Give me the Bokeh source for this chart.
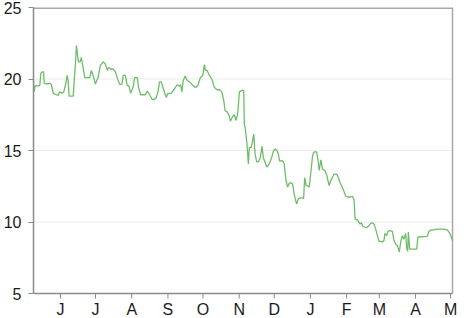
import pandas as pd
from bokeh.plotting import figure
from bokeh.models import FixedTicker, Range1d
from bokeh.core.properties import value
from bokeh.embed import file_html
from bokeh.resources import INLINE

# Days since 2014-06-01 and the value at that time
days = [-23.1, -22.6, -22.0, -21.1, -19.1, -17.7, -16.8, -15.6, -14.5, -13.9, -12.0, -9.1, -7.7, -6.2,
        -3.4, -2.0, -0.6, 0.9, 2.8, 4.5, 5.7, 6.6, 7.4, 10.9, 11.7, 12.8, 13.7, 14.5, 15.4, 16.8,
        17.9, 18.8, 20.8, 23.1, 25.0, 26.5, 27.9, 29.9, 32.2, 34.2, 36.5, 38.4, 40.2, 41.3, 43.0,
        45.0, 47.0, 49.3, 51.0, 52.7, 53.8, 55.5, 57.2, 58.7, 60.1, 62.1, 63.5, 65.8, 66.9, 68.6,
        70.6, 72.6, 74.3, 76.3, 78.3, 80.0, 82.0, 83.5, 84.8, 86.3, 88.6, 90.6, 92.0, 94.8, 97.6,
        99.9, 101.9, 102.8, 104.0, 105.1, 106.8, 108.5, 110.5, 113.4, 115.6, 117.6, 119.8, 121.9,
        122.8, 123.3, 124.1, 125.6, 127.5, 129.6, 131.8, 134.1, 136.1, 138.1, 139.8, 140.9, 142.7,
        144.4, 145.5, 147.5, 148.9, 150.3, 151.8, 153.2, 155.2, 156.9, 157.4, 158.3, 159.7, 160.9,
        161.7, 163.2, 164.0, 165.5, 166.6, 168.0, 169.4, 171.1, 172.6, 173.7, 175.1, 176.6, 177.9,
        179.4, 180.8, 182.5, 183.9, 185.4, 186.5, 187.7, 190.2, 191.6, 193.1, 194.5, 195.9, 197.3,
        198.8, 200.1, 202.2, 203.6, 205.3, 208.2, 209.1, 210.4, 212.1, 213.0, 214.4, 215.9, 217.2,
        219.3, 220.6, 221.5, 223.0, 224.4, 226.4, 228.1, 230.0, 231.5, 232.9, 234.3, 236.4, 237.7,
        239.2, 240.6, 242.0, 242.9, 244.3, 245.8, 248.6, 250.0, 251.4, 252.3, 254.3, 256.5, 257.7,
        258.8, 260.5, 262.2, 264.2, 265.7, 267.1, 268.5, 269.9, 271.4, 272.8, 274.2, 275.7, 277.0,
        277.9, 279.3, 280.4, 282.1, 284.2, 285.6, 287.0, 288.5, 290.2, 291.3, 292.7, 294.1, 295.6,
        296.4, 297.3, 297.9, 299.0, 305.0, 306.1, 314.1, 315.5, 317.5, 319.7, 322.6, 328.3, 331.2,
        333.4, 334.6, 335.7]
values = [19.9, 19.1, 19.4, 19.55, 19.5, 19.55, 20.4, 20.5, 20.5, 19.7, 19.65, 19.7, 19.6, 19.0,
          18.9, 18.85, 19.1, 19.0, 19.1, 19.65, 20.25, 19.85, 18.8, 18.8, 19.8, 21.05, 22.35, 21.75,
          21.2, 21.2, 21.5, 21.05, 20.1, 20.1, 20.1, 20.6, 20.25, 19.65, 20.1, 20.95, 21.2, 21.05,
          20.6, 20.8, 20.7, 20.7, 20.5, 19.9, 19.6, 19.65, 20.25, 20.25, 19.55, 19.5, 19.0, 19.4,
          20.1, 20.1, 19.4, 18.9, 18.9, 18.9, 19.15, 18.9, 18.6, 18.55, 18.7, 19.1, 19.8, 19.8,
          19.2, 18.7, 19.0, 19.0, 19.3, 19.6, 19.5, 19.6, 19.1, 19.9, 20.2, 19.9, 19.8, 19.55, 19.4,
          19.55, 20.1, 20.25, 20.8, 21.0, 20.6, 20.6, 20.25, 20.0, 19.4, 19.25, 19.25, 19.1, 18.5,
          17.8, 17.7, 17.45, 17.05, 17.4, 17.5, 17.1, 17.6, 19.1, 19.2, 19.2, 16.9, 16.5, 15.45,
          14.05, 15.2, 15.2, 15.45, 16.15, 14.75, 14.2, 14.2, 14.5, 15.3, 14.5, 14.2, 13.85, 13.95,
          14.2, 14.5, 15.0, 15.1, 15.0, 14.75, 14.25, 14.3, 14.05, 12.9, 12.45, 12.7, 12.75, 12.65,
          11.95, 11.25, 11.6, 11.7, 11.65, 13.1, 12.55, 12.5, 12.45, 13.5, 14.65, 14.9, 14.9, 14.3,
          13.6, 14.35, 13.7, 13.6, 13.25, 12.55, 12.9, 13.15, 13.35, 13.35, 13.15, 12.8, 12.55,
          12.3, 12.1, 11.8, 11.75, 11.75, 11.8, 11.55, 10.2, 10.15, 9.85, 9.95, 9.7, 9.65, 9.6,
          9.75, 9.9, 9.95, 9.85, 9.5, 9.05, 8.65, 8.65, 8.6, 8.7, 9.2, 9.05, 9.35, 9.4, 9.35, 8.7,
          8.45, 8.35, 7.9, 8.6, 9.05, 8.8, 9.2, 8.2, 7.95, 9.3, 8.1, 8.1, 8.95, 9.0, 9.35, 9.45,
          9.45, 9.5, 9.5, 9.45, 9.2, 8.95, 8.7]

month_starts = ["2014-06-01", "2014-07-01", "2014-08-01", "2014-09-01", "2014-10-01",
                "2014-11-01", "2014-12-01", "2015-01-01", "2015-02-01", "2015-03-01",
                "2015-04-01", "2015-05-01"]
month_labels = ["J", "J", "A", "S", "O", "N", "D", "J", "F", "M", "A", "M"]
y_ticks = [5, 10, 15, 20, 25]

origin = pd.Timestamp("2014-06-01")
tick_pos = [float((pd.Timestamp(d) - origin).days) for d in month_starts]

# layout: value axis spans 5..25 over 286 px and the dates span 420 px; the frame
# is widened to the bottom and right edges so the month letters (drawn as glyphs)
# can sit just below the 5-line like in the original
W, H = 467, 318
top, left, right = 7, 32, 3
ylo, yhi = y_ticks[0], y_ticks[-1]
px_per_unit = 286 / (yhi - ylo)
y_start = ylo - (H - top - 286) / px_per_unit
x_start, x_last = -23.1, 335.7
px_per_day = 420 / (x_last - x_start)
x_end = x_last + 12 / px_per_day

AXIS_COL = "#8a8a8a"
BORDER_COL = "#a8a8a8"
FONT = "Liberation Sans"

p = figure(width=W, height=H, output_backend="svg", toolbar_location=None,
           x_range=Range1d(x_start, x_end), y_range=Range1d(y_start, yhi),
           x_axis_location=None,
           min_border_left=left, min_border_right=right, min_border_top=top,
           min_border_bottom=0)

p.background_fill_color = "white"
p.border_fill_color = "white"
p.outline_line_color = None

p.xgrid.visible = False
p.ygrid.visible = False
# horizontal gridlines only inside the chart box
p.segment(x0=[x_start] * 3, y0=y_ticks[1:-1], x1=[x_last] * 3, y1=y_ticks[1:-1],
          line_color="#ebebeb", line_width=1)

ya = p.yaxis[0]
ya.ticker = FixedTicker(ticks=y_ticks)
ya.bounds = (ylo, yhi)
ya.axis_line_color = AXIS_COL
ya.axis_line_width = 1.5
ya.major_tick_line_color = AXIS_COL
ya.major_tick_in = 0
ya.major_tick_out = 5
ya.minor_tick_line_color = None
ya.major_label_text_font = FONT
ya.major_label_text_font_size = "16px"
ya.major_label_text_color = "#1a1a1a"
ya.major_label_standoff = 7

# chart box border (top and right) and the bottom axis line
p.segment(x0=[x_start], y0=[yhi], x1=[x_last], y1=[yhi], line_color=BORDER_COL, line_width=3)
p.segment(x0=[x_last], y0=[ylo], x1=[x_last], y1=[yhi], line_color=BORDER_COL, line_width=1.5)
p.segment(x0=[x_start], y0=[ylo], x1=[x_last], y1=[ylo], line_color=AXIS_COL, line_width=1.5)

# month ticks and letters
tick_len = 5 / px_per_unit
p.segment(x0=tick_pos, y0=[ylo] * len(tick_pos), x1=tick_pos,
          y1=[ylo - tick_len] * len(tick_pos), line_color=AXIS_COL, line_width=1)
p.text(x=tick_pos, y=[y_start + 0.5 / px_per_unit] * len(tick_pos), text=month_labels,
       text_align="center", text_baseline="bottom",
       text_font=value(FONT), text_font_size="16px", text_color="#1a1a1a")

p.line(days, values, line_color="#6dbd68", line_width=1.3)

open("out.html", "w").write(file_html(p, INLINE))
